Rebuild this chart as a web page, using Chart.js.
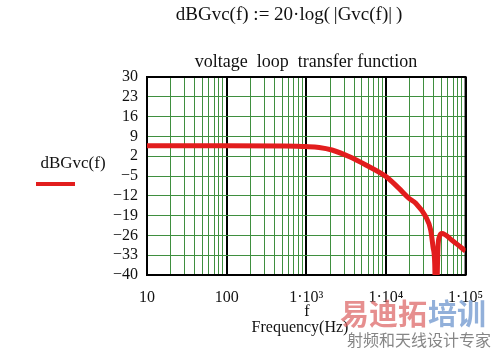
<!DOCTYPE html>
<html>
<head>
<meta charset="utf-8">
<script src="https://cdn.jsdelivr.net/npm/chart.js@4/dist/chart.umd.min.js"></script>
<style>
  html, body { margin: 0; padding: 0; background: #fff; }
  #wrap { width: 496px; height: 352px; }
</style>
</head>
<body>
<div id="wrap"><canvas id="myChart" width="496" height="352"></canvas></div>
<script>
// frequency (Hz) and gain (dB)
const freqs  = [10, 100, 500, 1000, 1450, 2100, 3500, 5600, 10000, 14500, 19500, 23700, 31600, 36500, 39000, 41000, 42500, 45100, 46900, 50500, 70000, 100000];
const gainDb = [5.7, 5.7, 5.6, 5.4, 5.1, 4.2, 1.8, -1.1, -5.2, -9.3, -12.9, -14.6, -19.4, -24.1, -30, -35.8, -55, -30, -26.5, -25.3, -28.1, -31.5];

const decades = [10, 100, 1000, 10000, 100000];
const decadeLabels = ['10', '100', '1\u00b710\u00b3', '1\u00b710\u2074', '1\u00b710\u2075'];
const minorSteps = [2, 3, 4, 5, 6, 7, 8, 9];
const yTicks = [-40, -33, -26, -19, -12, -5, 2, 9, 16, 23, 30];

const SERIF = '"Liberation Serif", "DejaVu Serif", serif';
const GREEN = '#3f8f3f';
const RED = '#e21d1d';

// all vertical grid positions: decades + 2..9 inside each decade
const gridFreqs = [];
decades.forEach((d, i) => {
    gridFreqs.push(d);
    if (i < decades.length - 1) minorSteps.forEach(m => gridFreqs.push(d * m));
});

const isDecade = v => decades.includes(v);

const extras = {
    id: 'extras',
    beforeDatasetsDraw(chart) {
        const { ctx, chartArea: a } = chart;
        ctx.save();
        ctx.strokeStyle = '#000';
        ctx.lineWidth = 2;
        ctx.strokeRect(a.left, a.top, a.right - a.left, a.bottom - a.top);
        ctx.restore();
    },
    afterDraw(chart) {
        const { ctx } = chart;
        ctx.save();
        ctx.fillStyle = '#111';
        ctx.textAlign = 'center';
        ctx.textBaseline = 'middle';

        ctx.font = '19px ' + SERIF;
        ctx.fillText('dBGvc(f) := 20\u00b7log(\u2009|Gvc(f)|\u2009)', 289, 15);

        ctx.font = '18px ' + SERIF;
        ctx.fillText('voltage  loop  transfer function', 306, 62);

        ctx.font = '16px ' + SERIF;
        ctx.fillText('f', 307, 312);
        ctx.fillText('Frequency(Hz)', 300, 328);

        // legend
        ctx.font = '17px ' + SERIF;
        ctx.fillText('dBGvc(f)', 73, 164);
        ctx.strokeStyle = RED;
        ctx.lineWidth = 4;
        ctx.beginPath();
        ctx.moveTo(36, 184);
        ctx.lineTo(75, 184);
        ctx.stroke();

        // watermark
        ctx.textAlign = 'left';
        ctx.font = 'bold 29px "Noto Sans CJK SC", sans-serif';
        ctx.fillStyle = 'rgba(222, 105, 105, 0.75)';
        ctx.fillText('易迪拓', 340, 314);
        ctx.fillStyle = 'rgba(110, 150, 205, 0.75)';
        ctx.fillText('培训', 428, 314);
        ctx.font = '16px "Noto Sans CJK SC", sans-serif';
        ctx.fillStyle = 'rgba(120, 120, 120, 0.9)';
        ctx.fillText('射频和天线设计专家', 347, 340);
        ctx.restore();
    }
};

const chart = new Chart(document.getElementById('myChart').getContext('2d'), {
    type: 'line',
    data: {
        datasets: [{
            label: 'dBGvc(f)',
            data: freqs.map((f, i) => ({ x: f, y: gainDb[i] })),
            borderColor: RED,
            borderWidth: 5,
            pointRadius: 0,
            fill: false,
            cubicInterpolationMode: 'monotone'
        }]
    },
    options: {
        responsive: false,
        animation: false,
        layout: { padding: { left: 0, right: 30, top: 77, bottom: 0 } },
        plugins: {
            legend: { display: false },
            title: { display: false },
            tooltip: { enabled: false }
        },
        scales: {
            x: {
                type: 'logarithmic',
                min: 10,
                max: 100000,
                afterBuildTicks: scale => { scale.ticks = gridFreqs.map(v => ({ value: v })); },
                afterFit: scale => { scale.height = 77; },
                border: { display: false },
                grid: {
                    drawTicks: false,
                    color: c => isDecade(c.tick.value) ? '#000' : GREEN,
                    lineWidth: c => isDecade(c.tick.value) ? 2 : 1
                },
                ticks: {
                    autoSkip: false,
                    maxRotation: 0,
                    padding: 13,
                    color: '#111',
                    font: { family: SERIF, size: 16 },
                    callback: value => {
                        const i = decades.indexOf(value);
                        return i >= 0 ? decadeLabels[i] : '';
                    }
                }
            },
            y: {
                min: -40,
                max: 30,
                afterBuildTicks: scale => { scale.ticks = yTicks.map(v => ({ value: v })); },
                afterFit: scale => { scale.width = 147; },
                border: { display: false },
                grid: {
                    drawTicks: false,
                    color: GREEN,
                    lineWidth: 1
                },
                ticks: {
                    autoSkip: false,
                    padding: 9,
                    color: '#111',
                    font: { family: SERIF, size: 16 },
                    callback: value => value < 0 ? '\u2212' + Math.abs(value) : String(value)
                }
            }
        }
    },
    plugins: [extras]
});
</script>
</body>
</html>
